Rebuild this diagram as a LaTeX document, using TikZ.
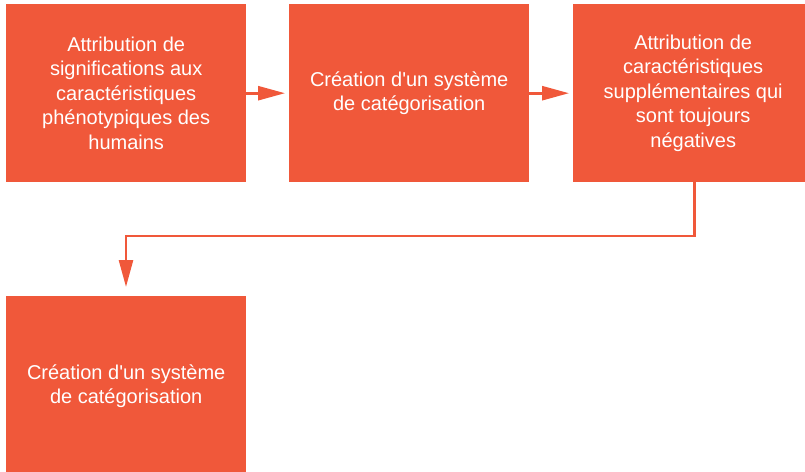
\documentclass[tikz,border=0pt]{standalone}
\usepackage{fontspec}
\setmainfont{Liberation Sans}
\usetikzlibrary{arrows.meta}
\definecolor{boxred}{RGB}{240,88,58}
\begin{document}
\begin{tikzpicture}
    [
        x=1pt, y=-1pt,
        stage/.style={rectangle, fill=boxred, text=white, anchor=north west,
            minimum width=240pt, minimum height=178pt, inner sep=0pt,
            align=center, font=\fontsize{20}{24.5}\selectfont},
        link/.style={draw=boxred, line width=2.6pt,
            -{Triangle[length=27pt, width=14pt]}},
    ]
    \useasboundingbox (0,0) rectangle (805,471);
    \node (s1) at (6,4) [stage] {Attribution de\\significations aux\\caractéristiques\\phénotypiques des\\humains};
    \node (s2) at (289,4) [stage] {Création d\textquotesingle un système\\de catégorisation};
    \node (s3) at (573,4) [stage] {Attribution de\\caractéristiques\\supplémentaires qui\\sont toujours\\négatives};
    \node (s4) at (6,296) [stage, minimum height=180pt] {Création d\textquotesingle un système\\de catégorisation};
    \draw [link, shorten >=4pt] (s1) -- (s2);
    \draw [link, shorten >=4pt] (s2) -- (s3);
    \draw [link, shorten >=9pt] (s3.south) ++(1,0) |- (126,236) -- (s4.north -| 126,0);
\end{tikzpicture}
\end{document}
